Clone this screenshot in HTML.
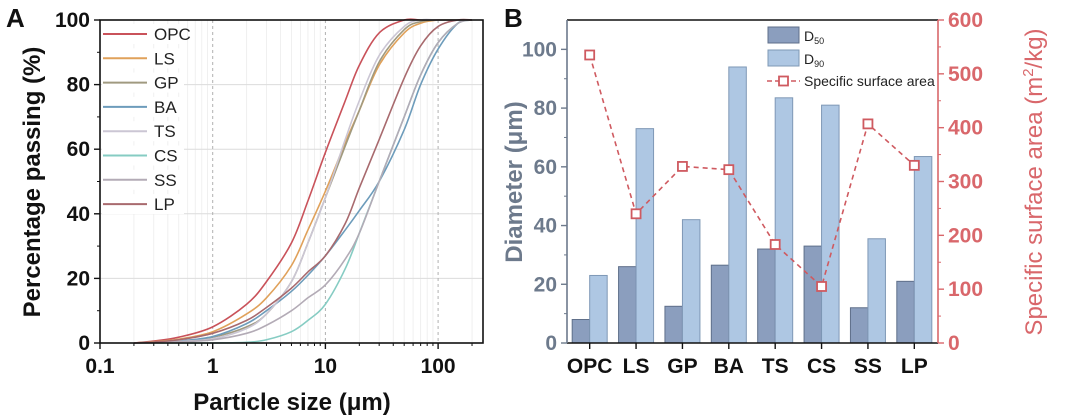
<!DOCTYPE html>
<html><head><meta charset="utf-8"><style>
html,body{margin:0;padding:0;background:#fff;}
svg{display:block;font-family:"Liberation Sans",Arial,sans-serif;}
</style></head><body>
<svg id="chart" width="1080" height="418" viewBox="0 0 1080 418">
<g id="pa"></g>
<g id="pb"></g>
</svg>
<script>
// ---------- Panel A data ----------
const sizes = [0.2,0.3,0.5,1,2,3,5,7,10,15,20,30,50,70,100,150,200];
const seriesNames = ["OPC","LS","GP","BA","TS","CS","SS","LP"];
const seriesColors = ["#c9525a","#e0a15a","#a09a80","#6d9cbb","#cbc6d4","#86ccc3","#b3abb6","#a86a6e"];
const vOPC = [0,0.6,1.8,5,12,19,31,44,59,75,86,96,100,100,100,100,100];
const vLS  = [0,0.4,1.2,3.5,9,14,24,35,47,62,72,86,96,99,100,100,100];
const vGP  = [0,0.2,0.6,1.8,5,9,19,31,45,61,72,87,97,99.5,100,100,100];
const vBA  = [0,0.2,0.6,2,6,10,16,21,27,35,41,50,66,80,91,99,100];
const vTS  = [0,0.2,0.5,1.3,4.5,9,19,31,45,63,75,89,98,100,100,100,100];
const vCS  = [0,0,0,0,0.2,1,3.5,7,12,23,34,50,70,83,93,99,100];
const vSS  = [0,0.1,0.4,1,3,5.5,10,14,18,26,34,50,70,83,93,99,100];
const vLP  = [0,0.3,1,3,7,11,17,22,27,37,48,63,82,92,98,100,100];
const seriesVals = [vOPC,vLS,vGP,vBA,vTS,vCS,vSS,vLP];
const xTicksA = [0.1,1,10,100];
const yTicksA = [0,20,40,60,80,100];

// ---------- Panel B data ----------
const cats = ["OPC","LS","GP","BA","TS","CS","SS","LP"];
const d50 = [8,26,12.5,26.5,32,33,12,21];
const d90 = [23,73,42,94,83.5,81,35.5,63.5];
const ssa = [535,240,328,322,183,105,407,330];
const yTicksL = [0,20,40,60,80,100];
const yTicksR = [0,100,200,300,400,500,600];

const NS="http://www.w3.org/2000/svg";
function mk(parent,tag,attrs,text){const e=document.createElementNS(NS,tag);for(const k in attrs)e.setAttribute(k,attrs[k]);if(text!==undefined)e.textContent=text;parent.appendChild(e);return e;}

// ===== Panel A =====
const A=document.getElementById('pa');
const aL=100,aR=483,aT=20,aB=343,dec=112.7;
const xA=v=>aL+Math.log10(v/0.1)*dec;
const yA=v=>aB-(v/100)*(aB-aT);
for(let d=0.1;d<200;d*=10){for(let m=2;m<=9;m++){const v=d*m;const x=xA(v);if(x>aR)continue;
 const g=mk(A,'line',{x1:x,x2:x,y1:aT,y2:aB,stroke:'#ececec','stroke-width':0.8});
 
 }}
yTicksA.forEach(t=>{if(t>0&&t<100){const g=mk(A,'line',{x1:aL,x2:aR,y1:yA(t),y2:yA(t),stroke:'#dcdcdc','stroke-width':1});
 
 }});
xTicksA.forEach(t=>{if(t>0.1){const g=mk(A,'line',{x1:xA(t),x2:xA(t),y1:aT,y2:aB,stroke:'#b0b0b0','stroke-width':1,'stroke-dasharray':'3,3'});
 
 }});
function smoothPath(pts){let d=`M${pts[0][0]},${pts[0][1]}`;for(let i=0;i<pts.length-1;i++){const p0=pts[i-1]||pts[i],p1=pts[i],p2=pts[i+1],p3=pts[i+2]||p2;
 const c1=[p1[0]+(p2[0]-p0[0])/6,p1[1]+(p2[1]-p0[1])/6],c2=[p2[0]-(p3[0]-p1[0])/6,p2[1]-(p3[1]-p1[1])/6];
 d+=`C${c1[0]},${c1[1]} ${c2[0]},${c2[1]} ${p2[0]},${p2[1]}`;}return d;}
seriesVals.forEach((vals,i)=>{const pts=sizes.map((s,j)=>[xA(s),yA(vals[j])]);
 const p=mk(A,'path',{d:smoothPath(pts),fill:'none',stroke:seriesColors[i],'stroke-width':1.6});
 
 });
const fa=mk(A,'rect',{x:aL,y:aT,width:aR-aL,height:aB-aT,fill:'none',stroke:'#111','stroke-width':1.6});


xTicksA.forEach(t=>{const x=xA(t);mk(A,'line',{x1:x,x2:x,y1:aB,y2:aB+6,stroke:'#111','stroke-width':1.4});
 const l=mk(A,'text',{x:x,y:aB+30,'text-anchor':'middle','font-size':21,'font-weight':'bold',fill:'#111'},String(t));
 
 });
for(let d=0.1;d<200;d*=10){for(let m=2;m<=9;m++){const x=xA(d*m);if(x>aR)continue;mk(A,'line',{x1:x,x2:x,y1:aB,y2:aB+3,stroke:'#111','stroke-width':1});}}
yTicksA.forEach(t=>{const y=yA(t);mk(A,'line',{x1:aL-6,x2:aL,y1:y,y2:y,stroke:'#111','stroke-width':1.4});
 if(t<100)mk(A,'line',{x1:aL-3,x2:aL,y1:yA(t+10),y2:yA(t+10),stroke:'#111','stroke-width':1});
 const l=mk(A,'text',{x:aL-10,y:y+7,'text-anchor':'end','font-size':21,'font-weight':'bold',fill:'#111'},String(t));
 
 });
let t=mk(A,'text',{x:292,y:410,'text-anchor':'middle','font-size':24,'font-weight':'bold',fill:'#111'},'Particle size (μm)');

t=mk(A,'text',{x:0,y:0,transform:'translate(40,182) rotate(-90)','text-anchor':'middle','font-size':24,'font-weight':'bold',fill:'#111'},'Percentage passing (%)');

t=mk(A,'text',{x:6,y:27,'font-size':26,'font-weight':'bold',fill:'#111'},'A');

seriesNames.forEach((n,i)=>{const y=34+i*24.3;
 const g=mk(A,'g',{});
 
 
 mk(g,'rect',{x:102,y:y-10,width:82,height:20,fill:'#fff'});
 mk(g,'line',{x1:103,x2:147,y1:y,y2:y,stroke:seriesColors[i],'stroke-width':2});
 mk(g,'text',{x:154,y:y+6,'font-size':17,fill:'#222'},n);});

// ===== Panel B =====
const B=document.getElementById('pb');
const bL=567,bR=938,bT=20,bB=343;
const yL=v=>bB-(v/110)*(bB-bT);
const yR=v=>bB-(v/600)*(bB-bT);
const step=(bR-bL)/cats.length;
const cx=i=>bL+step*(i+0.5)-0.5;
const bw=17.5;
cats.forEach((c,i)=>{
 const r1=mk(B,'rect',{x:cx(i)-bw,y:yL(d50[i]),width:bw,height:bB-yL(d50[i]),fill:'#8b9ebe',stroke:'#5f6f8a','stroke-width':1});
 
 
 const r2=mk(B,'rect',{x:cx(i),y:yL(d90[i]),width:bw,height:bB-yL(d90[i]),fill:'#aec7e3',stroke:'#7f98b6','stroke-width':1});
 
 
});
const lp=mk(B,'polyline',{points:ssa.map((v,i)=>cx(i)+','+yR(v)).join(' '),fill:'none',stroke:'#cf5a60','stroke-width':1.6,'stroke-dasharray':'5,4'});


ssa.forEach((v,i)=>{const m=mk(B,'rect',{x:cx(i)-4.5,y:yR(v)-4.5,width:9,height:9,fill:'#fff',stroke:'#cf5a60','stroke-width':1.8});
 
 });
mk(B,'line',{x1:bL,x2:bR,y1:bT,y2:bT,stroke:'#111','stroke-width':1.6});
mk(B,'line',{x1:bL,x2:bR,y1:bB,y2:bB,stroke:'#111','stroke-width':1.6});
mk(B,'line',{x1:bL,x2:bL,y1:bT,y2:bB,stroke:'#6d7a8c','stroke-width':1.6});
mk(B,'line',{x1:bR,x2:bR,y1:bT,y2:bB,stroke:'#d9676b','stroke-width':1.6});
yTicksL.forEach(v=>{const y=yL(v);mk(B,'line',{x1:bL-6,x2:bL,y1:y,y2:y,stroke:'#6d7a8c','stroke-width':1.4});
 if(v<100)mk(B,'line',{x1:bL-3,x2:bL,y1:yL(v+10),y2:yL(v+10),stroke:'#6d7a8c','stroke-width':1});
 const l=mk(B,'text',{x:bL-10,y:y+7,'text-anchor':'end','font-size':21,'font-weight':'bold',fill:'#6d7a8c'},String(v));
 
 });
yTicksR.forEach(v=>{const y=yR(v);mk(B,'line',{x1:bR,x2:bR+6,y1:y,y2:y,stroke:'#d9676b','stroke-width':1.4});
 if(v<600)mk(B,'line',{x1:bR,x2:bR+3,y1:yR(v+50),y2:yR(v+50),stroke:'#d9676b','stroke-width':1});
 const l=mk(B,'text',{x:bR+10,y:y+7,'font-size':21,'font-weight':'bold',fill:'#d9676b'},String(v));
 
 });
cats.forEach((c,i)=>{mk(B,'line',{x1:cx(i),x2:cx(i),y1:bB,y2:bB+6,stroke:'#111','stroke-width':1.4});
 const l=mk(B,'text',{x:cx(i),y:bB+30,'text-anchor':'middle','font-size':21,'font-weight':'bold',fill:'#111'},c);
 
 });
t=mk(B,'text',{x:0,y:0,transform:'translate(522,182) rotate(-90)','text-anchor':'middle','font-size':24,'font-weight':'bold',fill:'#6d7a8c'},'Diameter (μm)');

t=mk(B,'text',{x:0,y:0,transform:'translate(1042,182) rotate(-90)','text-anchor':'middle','font-size':24,fill:'#d9676b'});

t.innerHTML='Specific surface area (m<tspan dy="-9" font-size="15">2</tspan><tspan dy="9">/kg)</tspan>';
t=mk(B,'text',{x:504,y:27,'font-size':26,'font-weight':'bold',fill:'#111'},'B');

let g=mk(B,'g',{});
mk(g,'rect',{x:768,y:27,width:31,height:16,fill:'#8b9ebe',stroke:'#5f6f8a'});
t=mk(g,'text',{x:804,y:41,'font-size':14,fill:'#222'});t.innerHTML='D<tspan font-size="9" dy="3">50</tspan>';
g=mk(B,'g',{});
mk(g,'rect',{x:768,y:50,width:31,height:16,fill:'#aec7e3',stroke:'#7f98b6'});
t=mk(g,'text',{x:804,y:64,'font-size':14,fill:'#222'});t.innerHTML='D<tspan font-size="9" dy="3">90</tspan>';
g=mk(B,'g',{});
mk(g,'line',{x1:767,x2:800,y1:81,y2:81,stroke:'#cf5a60','stroke-width':1.6,'stroke-dasharray':'5,3'});
mk(g,'rect',{x:779,y:76.5,width:9,height:9,fill:'#fff',stroke:'#cf5a60','stroke-width':1.8});
mk(g,'text',{x:804,y:86,'font-size':14,fill:'#222'},'Specific surface area');
</script>
</body></html>
